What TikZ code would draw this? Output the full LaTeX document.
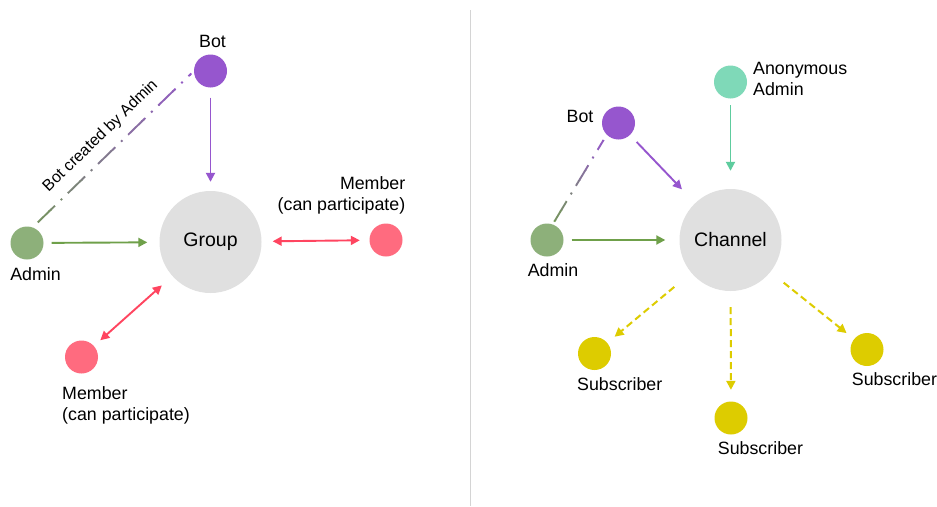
\documentclass[tikz,border=0pt]{standalone}
\usepackage{fontspec}
\setmainfont{Liberation Sans}
\usetikzlibrary{arrows.meta}
\definecolor{cpurple}{HTML}{9656CE}
\definecolor{cgreen}{HTML}{8DB07A}
\definecolor{cgreenline}{HTML}{6FA04A}
\definecolor{cred}{HTML}{FF4560}
\definecolor{cpink}{HTML}{FF6B7F}
\definecolor{cgray}{HTML}{E0E0E0}
\definecolor{cyellow}{HTML}{DDCC00}
\definecolor{cteal}{HTML}{7FD9B8}
\definecolor{ctealline}{HTML}{5ECC9E}
\definecolor{cdivider}{HTML}{D4D4D4}
\begin{document}
\begin{tikzpicture}[x=1pt,y=-1pt,
  ball/.style={circle,fill=#1,minimum size=33pt,inner sep=0pt},
  hub/.style={circle,fill=cgray,minimum size=102pt,inner sep=0pt,font=\fontsize{19.5}{22}\selectfont},
  lbl/.style={inner sep=0pt,font=\fontsize{17.8}{21}\selectfont},
  arr/.style={draw=#1,line width=1.9pt,-{Triangle[length=9pt,width=9pt]}},
  darr/.style={draw=#1,line width=1.9pt,{Triangle[length=9pt,width=9pt]}-{Triangle[length=9pt,width=9pt]}},
  yarr/.style={draw=cyellow,line width=2pt,dash pattern=on 7pt off 4pt,-{Triangle[length=9pt,width=9pt]}},
  dashdot/.style={line width=1.9pt,dash pattern=on 24pt off 8pt on 2pt off 8pt}
]
\useasboundingbox (0,0) rectangle (937,506);
\fill[white] (0,0) rectangle (937,506);

% divider
\draw[cdivider,line width=1pt] (470,10) -- (470,506);

% ---------------- left: group ----------------
\node[hub] (group) at (210.5,242) {Group};
\node[ball=cpurple] (lbot) at (210.5,71) {};
\node[ball=cgreen] (ladmin) at (27,243) {};
\node[ball=cpink] (memr) at (386,240) {};
\node[ball=cpink] (meml) at (81.5,357) {};

\node[lbl,anchor=north] (lbotl) at (212.5,35) {Bot};
\node[lbl,anchor=north] (ladminl) at (35.5,267) {Admin};
\node[lbl,anchor=north east,align=right] (memrl) at (405.5,176.5) {Member\\(can participate)};
\node[lbl,anchor=north west,align=left] (memll) at (62,386.5) {Member\\(can participate)};

\draw[arr=cpurple,shorten <=10pt,shorten >=9pt] (lbot) -- (group);
\draw[arr=cgreenline,shorten <=8pt,shorten >=12pt] (ladmin) -- (group);
\draw[darr=cred,shorten <=11pt,shorten >=9.5pt] (group) -- (memr);
\draw[darr=cred,shorten <=14pt,shorten >=8.5pt] (group) -- (meml);

\foreach \i in {0,...,11} {
  \pgfmathsetmacro\p{100-\i*8}
  \begin{scope}
    \clip (0,{60+\i*15}) rectangle (300,{75+\i*15});
    \draw[dashdot,color=cpurple!\p!cgreenline,shorten <=7pt,shorten >=3.5pt] (ladmin.70) -- (lbot.180);
  \end{scope}
}
\path (ladmin.70) -- (lbot.180) node[midway,sloped,above=10.5pt,inner sep=0pt,font=\fontsize{16}{19}\selectfont] (botlbl) {Bot created by Admin};

% ---------------- right: channel ----------------
\node[hub] (channel) at (730.5,240) {Channel};
\node[ball=cteal] (anon) at (730.5,82) {};
\node[ball=cpurple] (rbot) at (618.5,123) {};
\node[ball=cgreen] (radmin) at (547,240) {};
\node[ball=cyellow] (subl) at (594.5,353.5) {};
\node[ball=cyellow] (subm) at (731,418) {};
\node[ball=cyellow] (subr) at (867,349.5) {};

\node[lbl,anchor=north west,align=left] (anonl) at (753,62.5) {Anonymous\\Admin};
\node[lbl,anchor=north] (rbotl) at (580,110) {Bot};
\node[lbl,anchor=north] (radminl) at (553,263.3) {Admin};
\node[lbl,anchor=north west] (subll) at (577,377.3) {Subscriber};
\node[lbl,anchor=north west] (subml) at (717.7,441.7) {Subscriber};
\node[lbl,anchor=north west] (subrl) at (851.7,372.7) {Subscriber};

\draw[arr=ctealline,shorten <=6.5pt,shorten >=18pt] (anon) -- (channel);
\draw[arr=cpurple,shorten <=9.5pt,shorten >=19pt] (rbot) -- (channel);
\draw[arr=cgreenline,shorten <=8pt,shorten >=14pt] (radmin) -- (channel);

\draw[yarr,shorten <=22pt,shorten >=9.5pt] (channel) -- (subl);
\draw[yarr,shorten <=16pt,shorten >=11.5pt] (channel) -- (subm);
\draw[yarr,shorten <=17pt,shorten >=9.5pt] (channel) -- (subr);

\foreach \i in {0,...,9} {
  \pgfmathsetmacro\p{100-\i*10}
  \begin{scope}
    \clip (500,{130+\i*10}) rectangle (700,{140+\i*10});
    \draw[dashdot,color=cpurple!\p!cgreenline,shorten <=3pt,shorten >=6pt] (radmin.70) -- (rbot.225);
  \end{scope}
}
\end{tikzpicture}
\end{document}
